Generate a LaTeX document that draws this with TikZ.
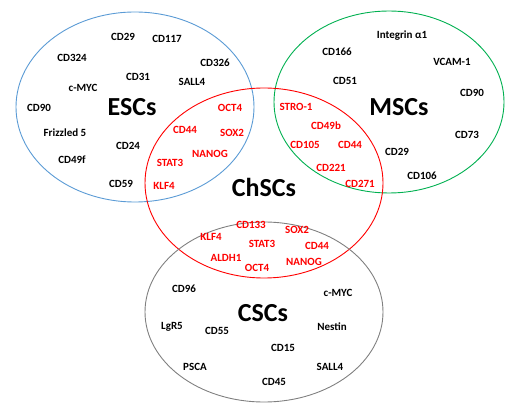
\documentclass[tikz,border=0pt]{standalone}
\usepackage{fontspec}
\setmainfont{Carlito}
\definecolor{escblue}{RGB}{91,155,213}
\definecolor{mscgreen}{RGB}{0,176,80}
\definecolor{chred}{RGB}{255,0,0}
\definecolor{cscgray}{RGB}{128,128,128}
\begin{document}
\begin{tikzpicture}[x=1pt,y=-1pt,
  lab/.style={font=\fontsize{11}{12}\selectfont\bfseries, text=black, inner sep=0pt},
  rlab/.style={lab, text=chred},
  title/.style={font=\fontsize{26}{28}\selectfont\bfseries, inner sep=0pt},
  circ/.style={line width=0.9pt}]
\useasboundingbox (0,0) rectangle (505,403);
% ellipses
\draw[circ, escblue] (135,107) ellipse [x radius=119, y radius=95];
\draw[circ, mscgreen] (389,102) ellipse [x radius=115, y radius=91];
\draw[circ, chred] (264,183) ellipse [x radius=119, y radius=95];
\draw[circ, cscgray] (264,312) ellipse [x radius=119, y radius=90];
% titles
\node[title] (esc) at (132,107) {ESCs};
\node[title] (msc) at (399,107) {MSCs};
\node[title] (chsc) at (264,187) {ChSCs};
\node[title] (csc) at (263,313) {CSCs};
% ESC labels
\node[lab] (e1) at (123,37) {CD29};
\node[lab] (e2) at (167,39) {CD117};
\node[lab] (e3) at (72,58) {CD324};
\node[lab] (e4) at (215,63) {CD326};
\node[lab] (e5) at (138,77) {CD31};
\node[lab] (e6) at (192,82) {SALL4};
\node[lab] (e7) at (83,88) {c-MYC};
\node[lab] (e8) at (39,108) {CD90};
\node[lab] (e9) at (65,133) {Frizzled 5};
\node[lab] (e10) at (128,146) {CD24};
\node[lab] (e11) at (72,160) {CD49f};
\node[lab] (e12) at (121,184) {CD59};
% ESC/ChSC labels
\node[rlab] (ec1) at (230,108) {OCT4};
\node[rlab] (ec2) at (185,130) {CD44};
\node[rlab] (ec3) at (232,133) {SOX2};
\node[rlab] (ec4) at (210,154) {NANOG};
\node[rlab] (ec5) at (170,163) {STAT3};
\node[rlab] (ec6) at (164,186) {KLF4};
% MSC labels
\node[lab] (m1) at (402,36) {Integrin α1};
\node[lab] (m2) at (337,52) {CD166};
\node[lab] (m3) at (452,62) {VCAM-1};
\node[lab] (m4) at (345,81) {CD51};
\node[lab] (m5) at (472,93) {CD90};
\node[lab] (m6) at (467,135) {CD73};
\node[lab] (m7) at (397,152) {CD29};
\node[lab] (m8) at (422,176) {CD106};
% MSC/ChSC labels
\node[rlab] (mc1) at (296,107) {STRO-1};
\node[rlab] (mc2) at (326,126) {CD49b};
\node[rlab] (mc3) at (305,145) {CD105};
\node[rlab] (mc4) at (350,145) {CD44};
\node[rlab] (mc5) at (331,168) {CD221};
\node[rlab] (mc6) at (360,184) {CD271};
% ChSC/CSC labels
\node[rlab] (cc1) at (251,225) {CD133};
\node[rlab] (cc2) at (297,230) {SOX2};
\node[rlab] (cc3) at (211,237) {KLF4};
\node[rlab] (cc4) at (262,244) {STAT3};
\node[rlab] (cc5) at (317,246) {CD44};
\node[rlab] (cc6) at (226,258) {ALDH1};
\node[rlab] (cc7) at (304,262) {NANOG};
\node[rlab] (cc8) at (257,268) {OCT4};
% CSC labels
\node[lab] (c1) at (184,289) {CD96};
\node[lab] (c2) at (338,293) {c-MYC};
\node[lab] (c3) at (172,327) {LgR5};
\node[lab] (c4) at (217,331) {CD55};
\node[lab] (c5) at (332,327) {Nestin};
\node[lab] (c6) at (283,348) {CD15};
\node[lab] (c7) at (195,367) {PSCA};
\node[lab] (c8) at (330,367) {SALL4};
\node[lab] (c9) at (274,382) {CD45};
\end{tikzpicture}
\end{document}
